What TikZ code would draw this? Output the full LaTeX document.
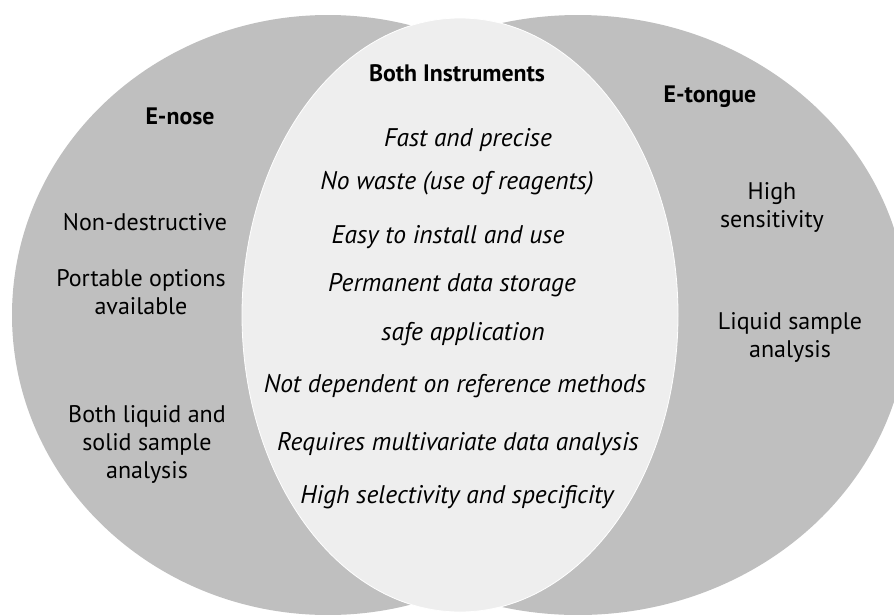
\documentclass[tikz,border=0pt]{standalone}
\usepackage{fontspec}
\setmainfont{PT Sans}
\usepackage{tikz}
\usetikzlibrary{positioning}
\definecolor{setgray}{gray}{0.75}
\definecolor{bothgray}{gray}{0.935}
\tikzset{
		set/.style={fill=setgray},
		both set/.style={fill=bothgray, draw=white, line width=0.8pt},
		heading/.style={font=\fontsize{23.8}{28}\selectfont\bfseries},
		item/.style={align=center, font=\fontsize{24}{28}\selectfont},
		common item/.style={font=\fontsize{25.5}{28}\selectfont\itshape}
	}

\begin{document}
\begin{tikzpicture}[x=1pt, y=-1pt]
				\useasboundingbox (0,0) rectangle (894,614);
				\clip (0,0) rectangle (894,614);
				% the three sets
				\fill[set]      (328,315) ellipse [x radius=316pt, y radius=300pt];
				\fill[set]      (578,315) ellipse [x radius=330pt, y radius=300pt];
				\filldraw[both set] (460,315) ellipse [x radius=218pt, y radius=297pt];
				% headings
				\node[heading] (enose)   at (180,116) {E-nose};
				\node[heading] (both)    at (457,73)  {Both Instruments};
				\node[heading] (etongue) at (710,97)  {E-tongue};
				% e-nose only
				\node[item] (nondestr) at (145,222) {Non-destructive};
				\node[item] (portable) at (141,292) {Portable options\\available};
				\node[item] (bothliq)  at (147,444) {Both liquid and\\solid sample\\analysis};
				% e-tongue only
				\node[item] (highsens) at (772,207) {High\\sensitivity};
				\node[item] (liquid)   at (790,337) {Liquid sample\\analysis};
				% both instruments
				\node[common item] (fast)     at (468,140) {Fast and precise};
				\node[common item] (waste)    at (457,183) {No waste (use of reagents)};
				\node[common item] (easy)     at (448,237) {Easy to install and use};
				\node[common item] (storage)  at (452,285) {Permanent data storage};
				\node[common item] (safe)     at (463,334) {safe application};
				\node[common item] (notdep)   at (455,386) {Not dependent on reference methods};
				\node[common item] (multivar) at (458,444) {Requires multivariate data analysis};
				\node[common item] (select)   at (457,497) {High selectivity and specificity};
			\end{tikzpicture}
\end{document}
